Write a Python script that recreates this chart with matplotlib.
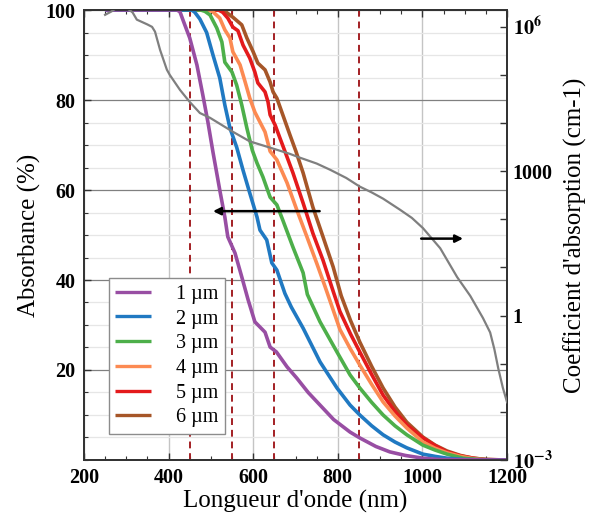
import matplotlib

matplotlib.use("Agg")

import matplotlib.pyplot as plt
import numpy as np
from matplotlib.ticker import FixedLocator, FuncFormatter, MultipleLocator

# Absorbance (%) vs wavelength (nm) for each thickness
WL_1 = [250, 420, 427, 434, 450, 467, 481, 493, 505, 521, 533, 540, 557, 573, 588, 604, 628, 640, 655,
        680, 703, 730, 758, 790, 829, 852, 890, 923, 960, 1001, 1040, 1200]
ABS_1 = [100, 100, 99.6, 97.8, 93.8, 87.8, 81.1, 75.1, 68.4, 60, 54, 49.6, 46, 40.7, 35.6, 30.7, 28.4, 25.1, 24,
         20.7, 18.2, 15, 12.2, 9, 6.2, 4.9, 3, 1.8, 1, 0.4, 0.1, 0]

WL_2 = [250, 455, 462, 474, 490, 505, 521, 533, 545, 561, 576, 592, 609, 616, 632, 644, 656, 675, 690,
        718, 758, 798, 829, 852, 880, 907, 935, 963, 1001, 1030, 1058, 1100, 1200]
ABS_2 = [100, 100, 99.5, 98, 95, 90, 84.9, 78.9, 73.8, 69.5, 64.4, 59.3, 54, 51.1, 48.9, 43.8, 42.2, 37, 34,
         29.3, 21.8, 16, 12.2, 10, 7.6, 5.6, 4, 2.7, 1.3, 0.8, 0.4, 0.1, 0]

WL_3 = [250, 476, 486, 498, 514, 526, 533, 550, 561, 573, 585, 598, 609, 623, 640, 656, 670, 694, 718,
        728, 758, 798, 829, 852, 880, 907, 935, 963, 1001, 1030, 1058, 1096, 1130, 1200]
ABS_3 = [100, 100, 99.7, 98.9, 96, 92.9, 88.4, 86.2, 83.3, 78.9, 73.8, 68.8, 66, 62.9, 58.4, 56.7, 53.3, 47.3, 41.6,
         36.8, 30.7, 24, 18.9, 16, 12.8, 10, 7.6, 5.6, 3.3, 2.2, 1.3, 0.4, 0.1, 0]

WL_4 = [250, 495, 505, 521, 533, 545, 552, 569, 581, 592, 604, 616, 628, 640, 656, 680, 703, 727, 751,
        770, 805, 829, 852, 880, 907, 935, 963, 1001, 1030, 1058, 1090, 1120, 1150, 1200]
ABS_4 = [100, 100, 99.6, 98.2, 95.6, 93.8, 90.7, 87.8, 84, 80.4, 77.3, 75.1, 72.9, 68.6, 66.7, 61.6, 55.6, 49.6, 43.5,
         38.5, 29, 24.8, 21.1, 16.8, 12.9, 9.8, 7.1, 4, 2.6, 1.6, 0.8, 0.3, 0.05, 0]

WL_5 = [250, 518, 528, 540, 552, 564, 576, 592, 604, 611, 628, 635, 640, 652, 663, 675, 694, 718, 741,
        765, 789, 805, 830, 852, 880, 907, 935, 963, 1001, 1030, 1058, 1090, 1120, 1150, 1200]
ABS_5 = [100, 100, 99.5, 98.2, 96.2, 95.4, 92.2, 89.3, 86.2, 83.8, 81.8, 79.6, 76.7, 74.4, 71.6, 68.6, 63.8, 57.1, 50.4,
         44.4, 37.5, 33, 28, 24, 19, 14.4, 10.8, 7.8, 4.9, 3.2, 1.8, 0.9, 0.4, 0.1, 0]

WL_6 = [250, 525, 535, 552, 573, 585, 600, 611, 628, 640, 647, 656, 670, 687, 701, 718, 741, 765, 789,
        808, 830, 852, 880, 907, 935, 963, 1001, 1030, 1058, 1090, 1120, 1150, 1200]
ABS_6 = [100, 100, 99.6, 98.4, 96.7, 93.8, 90.7, 88.2, 86.7, 84, 81.8, 80.4, 76.7, 72.2, 68.6, 63.8, 56.2, 49.6, 42.9,
         36.5, 31, 26.2, 20.8, 16, 11.8, 8.4, 5.1, 3.3, 2, 1, 0.4, 0.1, 0]

# Absorption coefficient (cm-1), given as log10
WL_COEF = [250, 265, 278, 300, 315, 325, 350, 361, 368, 380, 396, 403, 427, 450, 474, 498, 552, 592, 640,
           687, 711, 750, 782, 820, 852, 880, 907, 947, 975, 1001, 1042, 1082, 1113, 1143, 1160, 1170, 1179,
           1190, 1200]
LOG_COEF = [6.25, 6.32, 6.4, 6.4, 6.3, 6.15, 6.05, 6.0, 5.9, 5.52, 5.11, 5.0, 4.69, 4.44, 4.21, 4.11, 3.82, 3.62, 3.49,
            3.36, 3.28, 3.16, 3.03, 2.86, 2.68, 2.56, 2.43, 2.2, 2.03, 1.82, 1.4, 0.8, 0.41, -0.05, -0.35, -0.7,
            -1.09, -1.5, -1.8]

LABELS = ["1 µm", "2 µm", "3 µm", "4 µm", "5 µm", "6 µm"]
COLORS = ["#984ea3", "#2079c2", "#4daf4a", "#fc8a52", "#e41a1c", "#a65628"]
SERIES = [(WL_1, ABS_1), (WL_2, ABS_2), (WL_3, ABS_3), (WL_4, ABS_4), (WL_5, ABS_5), (WL_6, ABS_6)]

CUTOFFS = [450, 550, 650, 850]

plt.rcParams["font.family"] = ["Liberation Serif", "DejaVu Serif"]
plt.rcParams["mathtext.fontset"] = "stix"

fig = plt.figure(figsize=(5.91, 5.19), dpi=100)
ax = fig.add_axes([0.142, 0.1137, 0.716, 0.867])
ax2 = ax.twinx()

ax.set_xlim(200, 1200)
ax.set_ylim(0, 100)

# grid
ax.yaxis.set_minor_locator(MultipleLocator(5))
ax.xaxis.set_minor_locator(MultipleLocator(50))
ax.set_xticks([200, 400, 600, 800, 1000, 1200])
ax.set_yticks([20, 40, 60, 80, 100])
ax.grid(axis="y", which="minor", color="#e6e6e6", lw=0.9, zorder=0)
ax.grid(axis="y", which="major", color="#808080", lw=0.9, zorder=0)
ax.grid(axis="x", which="major", color="#c4c4c4", lw=1.0, zorder=0)

for x in CUTOFFS:
    ax.axvline(x, color="#a31f24", ls=(0, (3.5, 2.5)), lw=1.4, zorder=2)

handles = []
for i in range(len(SERIES) - 1, -1, -1):
    wl, ab = SERIES[i]
    (ln,) = ax.plot(wl, ab, color=COLORS[i], lw=2.6, zorder=10 - i, solid_capstyle="butt")
    handles.append(ln)
handles = handles[::-1]

ax.annotate("", xy=(505, 55.3), xytext=(757, 55.3),
            arrowprops=dict(arrowstyle="-|>", color="black", lw=1.8, mutation_scale=11, shrinkA=0, shrinkB=0),
            zorder=12)

leg = ax.legend(handles, LABELS, loc="lower left", bbox_to_anchor=(0.059, 0.058), fontsize=14.5,
                frameon=True, fancybox=False, edgecolor="#8c8c8c", framealpha=1, handlelength=1.75,
                handletextpad=1.25, labelspacing=0.28, borderpad=0.32, borderaxespad=0)
leg.get_frame().set_linewidth(1.0)
leg.set_zorder(20)
for h in leg.get_lines():
    h.set_linewidth(2.4)

# right axis: absorption coefficient
ax2.set_yscale("log")
ax2.set_ylim(1e-3, 10 ** 6.35)
ax2.plot(WL_COEF, np.power(10.0, LOG_COEF), color="#7f7f7f", lw=1.6, zorder=3)
ax2.annotate("", xy=(1096, 10 ** 1.6), xytext=(997, 10 ** 1.6),
             arrowprops=dict(arrowstyle="-|>", color="black", lw=1.8, mutation_scale=11, shrinkA=0, shrinkB=0))

RIGHT_TICKS = [10.0 ** k for k in range(-3, 7)]
RIGHT_TEXT = {-3: r"$\mathbf{10^{-3}}$", 0: "1", 3: "1000", 6: r"$\mathbf{10^{6}}$"}
ax2.yaxis.set_major_locator(FixedLocator(RIGHT_TICKS))
ax2.yaxis.set_minor_locator(FixedLocator([]))
ax2.yaxis.set_major_formatter(FuncFormatter(lambda v, p: RIGHT_TEXT.get(int(round(np.log10(v))), "")))

for a in (ax, ax2):
    for s in a.spines.values():
        s.set_color("#333333")
        s.set_linewidth(1.3)

ax.tick_params(which="both", direction="in", top=True, right=False, color="#333333")
ax.tick_params(which="major", length=5, width=1.0, labelsize=14.5, pad=6)
ax.tick_params(which="minor", length=3, width=0.8)
ax2.tick_params(which="major", direction="in", length=5, width=1.0, labelsize=14.5, pad=4, color="#333333")
for lab in ax.get_xticklabels() + ax.get_yticklabels() + ax2.get_yticklabels():
    lab.set_fontweight("bold")

ax.set_xlabel("Longueur d'onde (nm)", fontsize=18, labelpad=1)
ax.set_ylabel("Absorbance (%)", fontsize=18, labelpad=3)
ax2.set_ylabel("Coefficient d'absorption (cm-1)", fontsize=18, labelpad=8)

fig.savefig("out.png", dpi=100)
